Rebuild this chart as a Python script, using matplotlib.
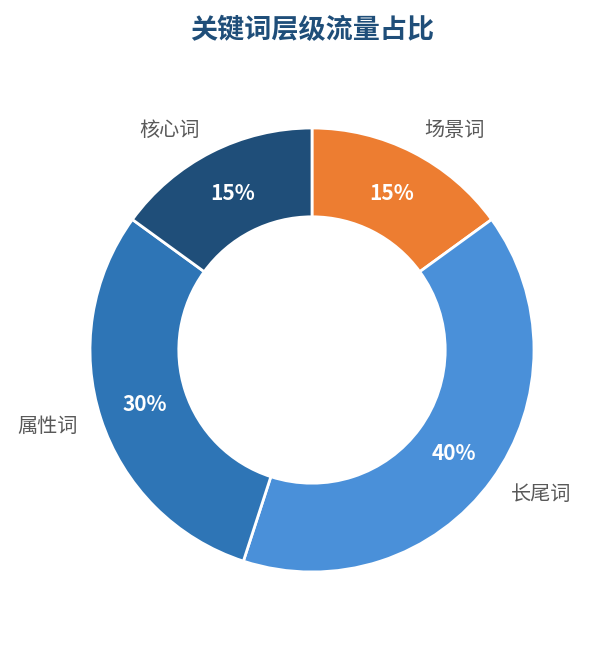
import matplotlib.pyplot as plt

plt.rcParams['font.family'] = ['Noto Sans CJK SC', 'DejaVu Sans']

# data, clockwise from 12 o'clock
labels = ['场景词', '长尾词', '属性词', '核心词']
shares = [15, 40, 30, 15]
colors = ['#ed7d31', '#4a90d9', '#2e75b6', '#1f4e79']

W, H = 606, 645
fig = plt.figure(figsize=(W / 100, H / 100), dpi=100)
ax = fig.add_axes([0, 0, 1, 1])

wedges, texts, autotexts = ax.pie(
    shares, labels=labels, colors=colors, startangle=90, counterclock=False,
    autopct='%d%%', pctdistance=0.79, labeldistance=1.11,
    wedgeprops=dict(width=0.4, edgecolor='white', linewidth=2),
    textprops=dict(fontsize=14.5, color='#595959'))

for t in autotexts:
    t.set_color('white')
    t.set_fontweight('bold')
    t.set_fontsize(15)

# pie centre at (312, 350) px from top, outer radius 222 px
cx, cy, r = 312, H - 350, 222
ax.set_xlim(-cx / r, (W - cx) / r)
ax.set_ylim(-cy / r, (H - cy) / r)
ax.set_aspect('auto')
ax.axis('off')

fig.text(312 / W, 1 - 30 / H, '关键词层级流量占比', ha='center', va='center',
         fontsize=19.5, fontweight='bold', color='#1f4e79')

fig.savefig('out.png', dpi=100)
